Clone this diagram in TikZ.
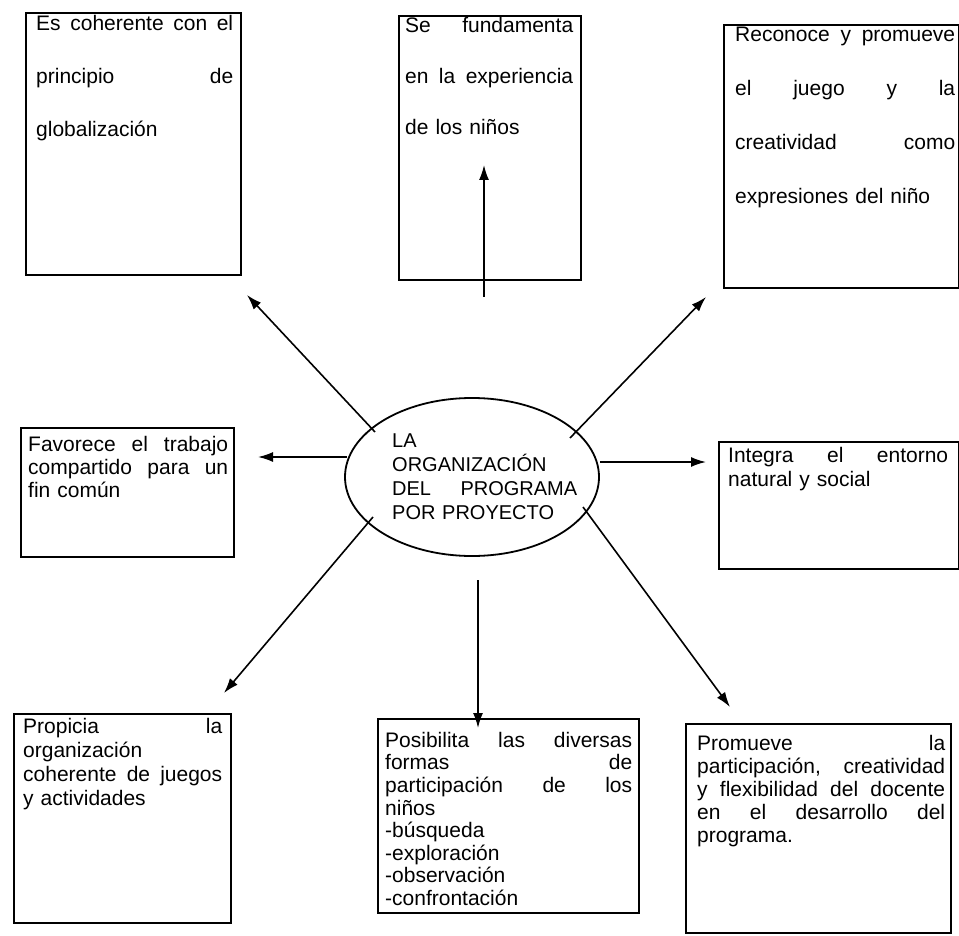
\documentclass[tikz,border=0pt]{standalone}
\usepackage{fontspec}
\setmainfont{Liberation Sans}
\usetikzlibrary{arrows.meta,shapes.geometric}
\newcommand\jfy[1]{\makebox[\hsize][s]{\spaceskip=0pt\xspaceskip=0pt #1}}
\begin{document}
\begin{tikzpicture}[x=1pt,y=-1pt,
  box/.style={draw, line width=1.8pt, anchor=north west, inner sep=0pt},
  txt/.style={anchor=north west, inner sep=0pt, align=left, font=\fontsize{21}{#1}\selectfont},
  etxt/.style={anchor=north west, inner sep=0pt, align=left, font=\fontsize{20}{#1}\selectfont},
  arr/.style={line width=1.6pt, -{Latex[length=15pt,width=10pt]}}]
\fill[white] (0,0) rectangle (959,936);
\useasboundingbox (0,0) rectangle (959,936);

% boxes
\node[box, minimum width=215pt, minimum height=262pt] (b1) at (25,12) {};
\node[box, minimum width=182pt, minimum height=264pt] (b2) at (398,15) {};
\node[box, minimum width=235pt, minimum height=263pt] (b3) at (723,24) {};
\node[box, minimum width=213pt, minimum height=129pt] (b4) at (20,427) {};
\node[box, minimum width=240pt, minimum height=127pt] (b6) at (718,441) {};
\node[box, minimum width=217pt, minimum height=209pt] (b7) at (13,713) {};
\node[box, minimum width=261pt, minimum height=194pt] (b8) at (377,718) {};
\node[box, minimum width=265pt, minimum height=209pt] (b9) at (685,723) {};

% central ellipse
\node[draw, ellipse, line width=1.8pt, minimum width=254pt, minimum height=158pt, inner sep=0pt] (ell) at (472,477) {};

% texts
\node[txt=53, text width=197pt] (t1) at (36,14) {\rule{0pt}{16pt}\jfy{Es coherente con el}\\\jfy{principio de}\\globalización};
\node[txt=51, text width=168pt] (t2) at (405,16) {\rule{0pt}{16pt}\jfy{Se fundamenta}\\\jfy{en la experiencia}\\de los niños};
\node[txt=54, text width=220pt] (t3) at (735,25) {\rule{0pt}{16pt}\jfy{Reconoce y promueve}\\\jfy{el juego y la}\\\jfy{creatividad como}\\expresiones del niño};
\node[txt=23, text width=200pt] (t4) at (28,435) {\rule{0pt}{16pt}\jfy{Favorece el trabajo}\\\jfy{compartido para un}\\fin común};
\node[txt=24, text width=220pt] (t6) at (728,446) {\rule{0pt}{16pt}\jfy{Integra el entorno}\\natural y social};
\node[txt=24, text width=199pt] (t7) at (23,717) {\rule{0pt}{16pt}\jfy{Propicia la}\\organización\\\jfy{coherente de juegos}\\y actividades};
\node[txt=22.6, text width=247pt] (t8) at (385,731) {\rule{0pt}{16pt}\jfy{Posibilita las diversas}\\\jfy{formas de}\\\jfy{participación de los}\\niños\\-búsqueda\\-exploración\\-observación\\-confrontación};
\node[txt=23, text width=248pt] (t9) at (697,734) {\rule{0pt}{16pt}\jfy{Promueve la}\\\jfy{participación, creatividad}\\\jfy{y flexibilidad del docente}\\\jfy{en el desarrollo del}\\programa.};
\node[etxt=24, text width=185pt] (te) at (392,431) {\rule{0pt}{16pt}LA\\ORGANIZACIÓN\\\jfy{DEL PROGRAMA}\\POR PROYECTO};

% arrow end points
\coordinate (sU) at (484,297);  \coordinate (eU) at (484,165);
\coordinate (sUL) at (375,432); \coordinate (eUL) at (247,295);
\coordinate (sUR) at (570,438); \coordinate (eUR) at (706,297);
\coordinate (sL) at (347,457);  \coordinate (eL) at (258,457);
\coordinate (sR) at (600,462);  \coordinate (eR) at (706,462);
\coordinate (sLL) at (373,517); \coordinate (eLL) at (224,693);
\coordinate (sD) at (478,580);  \coordinate (eD) at (478,728);
\coordinate (sLR) at (583,507); \coordinate (eLR) at (730,707);

\draw[arr] (sU) -- (eU);
\draw[arr] (sUL) -- (eUL);
\draw[arr] (sUR) -- (eUR);
\draw[arr] (sL) -- (eL);
\draw[arr] (sR) -- (eR);
\draw[arr] (sLL) -- (eLL);
\draw[arr] (sD) -- (eD);
\draw[arr] (sLR) -- (eLR);
\end{tikzpicture}
\end{document}
